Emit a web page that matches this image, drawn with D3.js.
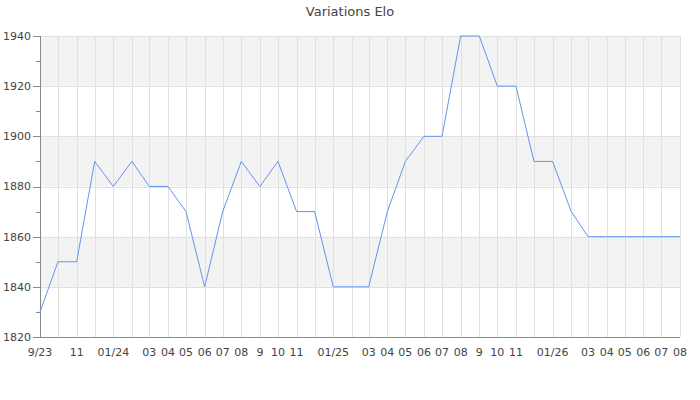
<!DOCTYPE html>
<html><head><meta charset="utf-8">
<script src="https://cdn.jsdelivr.net/npm/d3@7"></script>
<style>body{margin:0;background:#fff}svg{display:block}text{font-family:"DejaVu Sans",sans-serif}</style>
</head><body><svg id="c" width="700" height="400"></svg>
<script>
const months = ["2023-09","2023-10","2023-11","2023-12","2024-01","2024-02","2024-03","2024-04","2024-05","2024-06","2024-07","2024-08","2024-09","2024-10","2024-11","2024-12","2025-01","2025-02","2025-03","2025-04","2025-05","2025-06","2025-07","2025-08","2025-09","2025-10","2025-11","2025-12","2026-01","2026-02","2026-03","2026-04","2026-05","2026-06","2026-07","2026-08"];
const elo = [1830,1850,1850,1890,1880,1890,1880,1880,1870,1840,1870,1890,1880,1890,1870,1870,1840,1840,1840,1870,1890,1900,1900,1940,1940,1920,1920,1890,1890,1870,1860,1860,1860,1860,1860,1860];
const tickLabels = ["9/23","","11","","01/24","","03","04","05","06","07","08","9","10","11","","01/25","","03","04","05","06","07","08","9","10","11","","01/26","","03","04","05","06","07","08"];
const yTicks = [1820,1840,1860,1880,1900,1920,1940];
const yMinor = [1830,1850,1870,1890,1910,1930];
const bands = [[1840,1860],[1880,1900],[1920,1940]];

const parse = d3.timeParse("%Y-%m");
const dates = months.map(parse);
const svg = d3.select("#c");
const L=40,R=680,T=36,B=337;
const x = d3.scaleTime().domain([dates[0], dates[dates.length-1]]).range([L,R]);
const y = d3.scaleLinear().domain([1820,1940]).range([B,T]);

svg.append("text").attr("x",350).attr("y",16).attr("text-anchor","middle")
  .attr("font-size",13).attr("fill","#444").text("Variations Elo");

svg.selectAll("rect.band").data(bands).join("rect").attr("class","band")
  .attr("x",L).attr("width",R-L).attr("y",d=>y(d[1])).attr("height",d=>y(d[0])-y(d[1]))
  .attr("fill","#f3f3f3");

svg.append("g").selectAll("line").data(yTicks.slice(1)).join("line")
  .attr("x1",L).attr("x2",R).attr("y1",d=>Math.round(y(d))+0.5).attr("y2",d=>Math.round(y(d))+0.5)
  .attr("stroke","#e0e0e0");
svg.append("g").selectAll("line").data(dates.slice(1)).join("line")
  .attr("y1",T).attr("y2",B).attr("x1",d=>Math.round(x(d))+0.5).attr("x2",d=>Math.round(x(d))+0.5)
  .attr("stroke","#e0e0e0");

// y axis
const ya = svg.append("g");
ya.append("line").attr("x1",L+0.5).attr("x2",L+0.5).attr("y1",T).attr("y2",B).attr("stroke","#888");
ya.selectAll("line.maj").data(yTicks).join("line").attr("class","maj")
  .attr("x1",L-7).attr("x2",L).attr("y1",d=>Math.round(y(d))+0.5).attr("y2",d=>Math.round(y(d))+0.5).attr("stroke","#888");
ya.selectAll("line.min").data(yMinor).join("line").attr("class","min")
  .attr("x1",L-4).attr("x2",L).attr("y1",d=>Math.round(y(d))+0.5).attr("y2",d=>Math.round(y(d))+0.5).attr("stroke","#888");
ya.selectAll("text").data(yTicks).join("text")
  .attr("x",L-9).attr("y",d=>y(d)).attr("dy","0.35em").attr("text-anchor","end")
  .attr("font-size",11).attr("fill","#444").text(d=>d);

// x axis
const xa = svg.append("g");
xa.append("line").attr("x1",L).attr("x2",R).attr("y1",B+0.5).attr("y2",B+0.5).attr("stroke","#888");
xa.selectAll("text").data(dates).join("text")
  .attr("x",d=>x(d)).attr("y",B+15).attr("dy","0.35em").attr("text-anchor","middle")
  .attr("font-size",11).attr("fill","#444").text((d,i)=>tickLabels[i]);

const line = d3.line().x((d,i)=>x(dates[i])).y(d=>y(d));
svg.append("path").datum(elo).attr("d",line).attr("fill","none")
  .attr("stroke","#6495ed").attr("stroke-width",1);
</script></body></html>
